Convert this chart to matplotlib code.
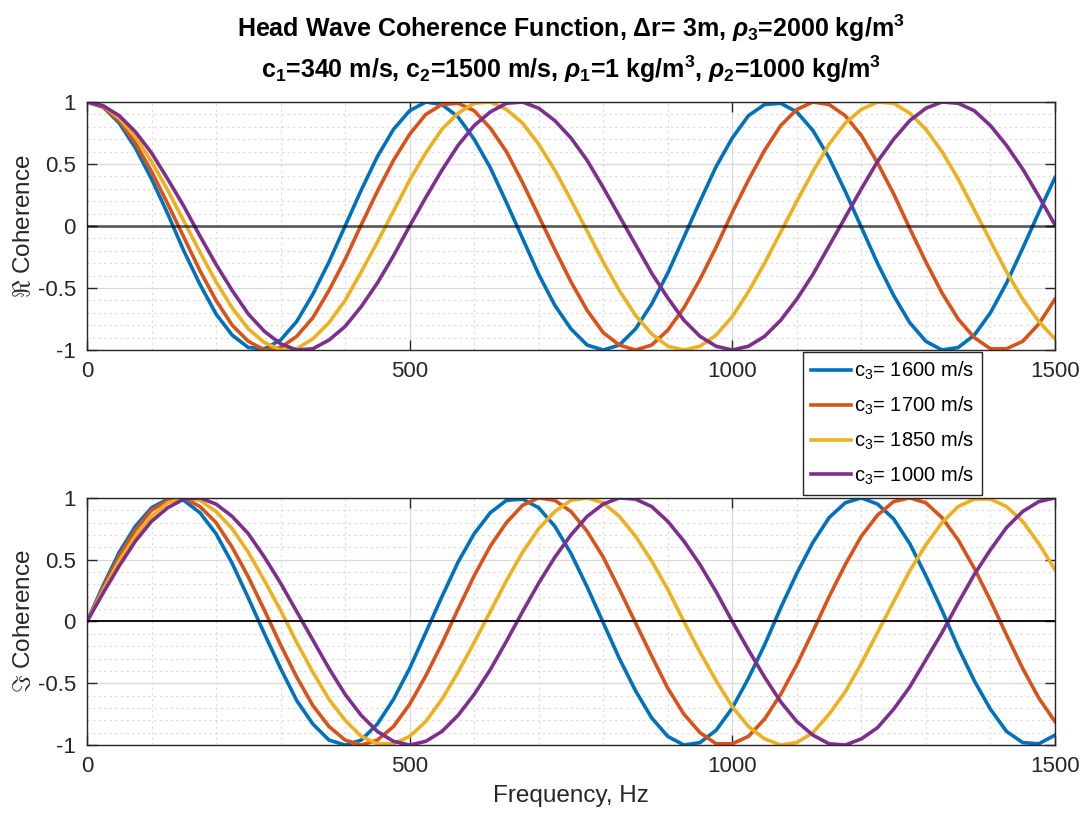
import numpy as np
import matplotlib
matplotlib.use('Agg')
import matplotlib.pyplot as plt
from matplotlib.ticker import MultipleLocator

plt.rcParams['font.family'] = ['Liberation Sans', 'DejaVu Sans']
plt.rcParams['mathtext.fontset'] = 'custom'
plt.rcParams['mathtext.rm'] = 'Liberation Sans'
plt.rcParams['mathtext.it'] = 'Liberation Sans:italic:bold'
plt.rcParams['mathtext.bf'] = 'Liberation Sans:bold'
plt.rcParams['axes.unicode_minus'] = False

# frequency axis, Hz (values read every 25 Hz)
freq = np.arange(0, 1501, 25)

c3_labels = ['1600', '1700', '1850', '1000']
colors = ['#0072BD', '#D95319', '#EDB120', '#7E2F8E']

re_1600 = [1.00, 0.96, 0.83, 0.63, 0.38, 0.10, -0.20, -0.47, -0.71, -0.88,
           -0.98, -0.99, -0.92, -0.77, -0.55, -0.29, 0.00, 0.29, 0.56, 0.78,
           0.93, 1.00, 0.98, 0.88, 0.70, 0.47, 0.19, -0.10, -0.39, -0.64,
           -0.83, -0.96, -1.00, -0.96, -0.83, -0.63, -0.38, -0.09, 0.20, 0.48,
           0.71, 0.89, 0.98, 0.99, 0.92, 0.77, 0.55, 0.28, -0.01, -0.30,
           -0.56, -0.78, -0.93, -1.00, -0.98, -0.88, -0.70, -0.46, -0.18, 0.11,
           0.39]
im_1600 = [0.00, 0.29, 0.56, 0.77, 0.92, 0.99, 0.98, 0.88, 0.71, 0.47,
           0.19, -0.10, -0.38, -0.64, -0.83, -0.96, -1.00, -0.96, -0.83, -0.63,
           -0.38, -0.09, 0.20, 0.48, 0.71, 0.88, 0.98, 0.99, 0.92, 0.77,
           0.55, 0.28, -0.01, -0.30, -0.56, -0.78, -0.93, -1.00, -0.98, -0.88,
           -0.70, -0.46, -0.19, 0.11, 0.39, 0.64, 0.84, 0.96, 1.00, 0.95,
           0.83, 0.63, 0.37, 0.09, -0.21, -0.48, -0.71, -0.89, -0.98, -0.99,
           -0.92]
re_1700 = [1.00, 0.96, 0.85, 0.67, 0.44, 0.18, -0.09, -0.36, -0.60, -0.80,
           -0.93, -1.00, -0.98, -0.89, -0.74, -0.52, -0.27, 0.01, 0.28, 0.53,
           0.74, 0.90, 0.98, 0.99, 0.93, 0.79, 0.60, 0.35, 0.08, -0.19,
           -0.45, -0.68, -0.86, -0.96, -1.00, -0.96, -0.84, -0.66, -0.43, -0.17,
           0.11, 0.37, 0.61, 0.81, 0.94, 1.00, 0.98, 0.89, 0.73, 0.51,
           0.26, -0.02, -0.29, -0.54, -0.75, -0.90, -0.99, -0.99, -0.93, -0.79,
           -0.59]
im_1700 = [0.00, 0.27, 0.53, 0.74, 0.90, 0.98, 1.00, 0.93, 0.80, 0.60,
           0.36, 0.09, -0.19, -0.45, -0.68, -0.85, -0.96, -1.00, -0.96, -0.85,
           -0.67, -0.44, -0.18, 0.10, 0.37, 0.61, 0.80, 0.94, 1.00, 0.98,
           0.89, 0.73, 0.52, 0.26, -0.01, -0.28, -0.54, -0.75, -0.90, -0.99,
           -0.99, -0.93, -0.79, -0.59, -0.35, -0.08, 0.20, 0.46, 0.69, 0.86,
           0.97, 1.00, 0.96, 0.84, 0.66, 0.43, 0.17, -0.11, -0.38, -0.62,
           -0.81]
re_1850 = [1.00, 0.97, 0.87, 0.72, 0.52, 0.29, 0.04, -0.21, -0.45, -0.66,
           -0.83, -0.94, -1.00, -0.99, -0.91, -0.78, -0.60, -0.37, -0.13, 0.12,
           0.37, 0.59, 0.78, 0.91, 0.99, 1.00, 0.94, 0.83, 0.66, 0.45,
           0.21, -0.04, -0.29, -0.52, -0.72, -0.87, -0.97, -1.00, -0.97, -0.88,
           -0.73, -0.53, -0.30, -0.05, 0.20, 0.44, 0.66, 0.83, 0.94, 1.00,
           0.99, 0.91, 0.78, 0.60, 0.38, 0.13, -0.12, -0.37, -0.59, -0.77,
           -0.91]
im_1850 = [0.00, 0.25, 0.49, 0.69, 0.85, 0.96, 1.00, 0.98, 0.89, 0.75,
           0.56, 0.33, 0.09, -0.17, -0.41, -0.63, -0.80, -0.93, -0.99, -0.99,
           -0.93, -0.81, -0.63, -0.41, -0.17, 0.08, 0.33, 0.56, 0.75, 0.89,
           0.98, 1.00, 0.96, 0.85, 0.69, 0.49, 0.26, 0.00, -0.25, -0.48,
           -0.69, -0.85, -0.95, -1.00, -0.98, -0.90, -0.75, -0.57, -0.34, -0.09,
           0.16, 0.41, 0.62, 0.80, 0.93, 0.99, 0.99, 0.93, 0.81, 0.63,
           0.42]
re_1000 = [1.00, 0.97, 0.89, 0.76, 0.59, 0.38, 0.16, -0.08, -0.31, -0.52,
           -0.71, -0.85, -0.95, -1.00, -0.99, -0.92, -0.81, -0.65, -0.46, -0.24,
           0.00, 0.23, 0.45, 0.65, 0.81, 0.92, 0.99, 1.00, 0.95, 0.85,
           0.71, 0.53, 0.31, 0.08, -0.15, -0.38, -0.58, -0.76, -0.89, -0.97,
           -1.00, -0.97, -0.89, -0.76, -0.59, -0.39, -0.16, 0.07, 0.30, 0.52,
           0.70, 0.85, 0.95, 1.00, 0.99, 0.93, 0.81, 0.65, 0.46, 0.24,
           0.01]
im_1000 = [0.00, 0.23, 0.45, 0.65, 0.81, 0.92, 0.99, 1.00, 0.95, 0.85,
           0.71, 0.52, 0.31, 0.08, -0.15, -0.38, -0.59, -0.76, -0.89, -0.97,
           -1.00, -0.97, -0.89, -0.76, -0.59, -0.39, -0.16, 0.08, 0.31, 0.52,
           0.70, 0.85, 0.95, 1.00, 0.99, 0.93, 0.81, 0.65, 0.46, 0.24,
           0.00, -0.23, -0.45, -0.65, -0.81, -0.92, -0.99, -1.00, -0.95, -0.86,
           -0.71, -0.53, -0.31, -0.09, 0.15, 0.38, 0.58, 0.76, 0.89, 0.97,
           1.00]

re_all = [re_1600, re_1700, re_1850, re_1000]
im_all = [im_1600, im_1700, im_1850, im_1000]

fig = plt.figure(figsize=(10.82, 8.13), dpi=100)
ax1 = fig.add_axes([0.0804, 0.5695, 0.8946, 0.305])
ax2 = fig.add_axes([0.0804, 0.0836, 0.8946, 0.304])

axcol = '#262626'
for ax, data, zc, zlw, ylab in [(ax1, re_all, (0, 0, 0, 0.6), 2.0, r'$\Re$ Coherence'),
                                (ax2, im_all, 'black', 1.3, r'$\Im$ Coherence')]:
    for i in range(4):
        ax.plot(freq, data[i], color=colors[i], lw=2.6,
                label='c$_3$= ' + c3_labels[i] + ' m/s')
    ax.axhline(0, color=zc, lw=zlw, zorder=5)
    ax.set_xlim(0, 1500)
    ax.set_ylim(-1, 1)
    ax.set_xticks([0, 500, 1000, 1500])
    ax.set_yticks([-1, -0.5, 0, 0.5, 1])
    ax.set_yticklabels(['-1', '-0.5', '0', '0.5', '1'])
    ax.xaxis.set_minor_locator(MultipleLocator(100))
    ax.yaxis.set_minor_locator(MultipleLocator(0.1))
    ax.grid(True, which='major', color='#d9d9d9', lw=0.9)
    ax.grid(True, which='minor', color='#d9d9d9', lw=0.8, linestyle=(0, (2, 3)))
    ax.tick_params(which='major', direction='in', length=7, width=1, colors=axcol,
                   top=True, right=True, labelsize=16, pad=8)
    ax.tick_params(which='minor', length=0, top=True, right=True)
    for s in ax.spines.values():
        s.set_color(axcol)
        s.set_linewidth(1)
    ax.set_ylabel(ylab, fontsize=17.5, color=axcol, labelpad=2)
    ax.set_axisbelow(True)

ax2.set_xlabel('Frequency, Hz', fontsize=17.5, color=axcol, labelpad=6)

fig.text(0.5277, 0.9655,
         r'Head Wave Coherence Function, Δr= 3m, $\rho_\mathbf{3}$=2000 kg/m$^\mathbf{3}$',
         ha='center', va='center', fontsize=18, fontweight='bold')
fig.text(0.5277, 0.9150,
         r'c$_\mathbf{1}$=340 m/s, c$_\mathbf{2}$=1500 m/s, $\rho_\mathbf{1}$=1 kg/m$^\mathbf{3}$, '
         r'$\rho_\mathbf{2}$=1000 kg/m$^\mathbf{3}$',
         ha='center', va='center', fontsize=18, fontweight='bold')

handles, labels = ax1.get_legend_handles_labels()
leg = fig.legend(handles, labels, loc='upper left',
                 bbox_to_anchor=(803 / 1082, 1 - 352 / 813),
                 fontsize=14.5, frameon=True, fancybox=False, framealpha=1,
                 edgecolor=axcol, handlelength=2.0, handletextpad=0.15,
                 labelspacing=0.62, borderpad=0.4, borderaxespad=0)
leg.get_frame().set_linewidth(1)

fig.savefig('out.png', dpi=100)
